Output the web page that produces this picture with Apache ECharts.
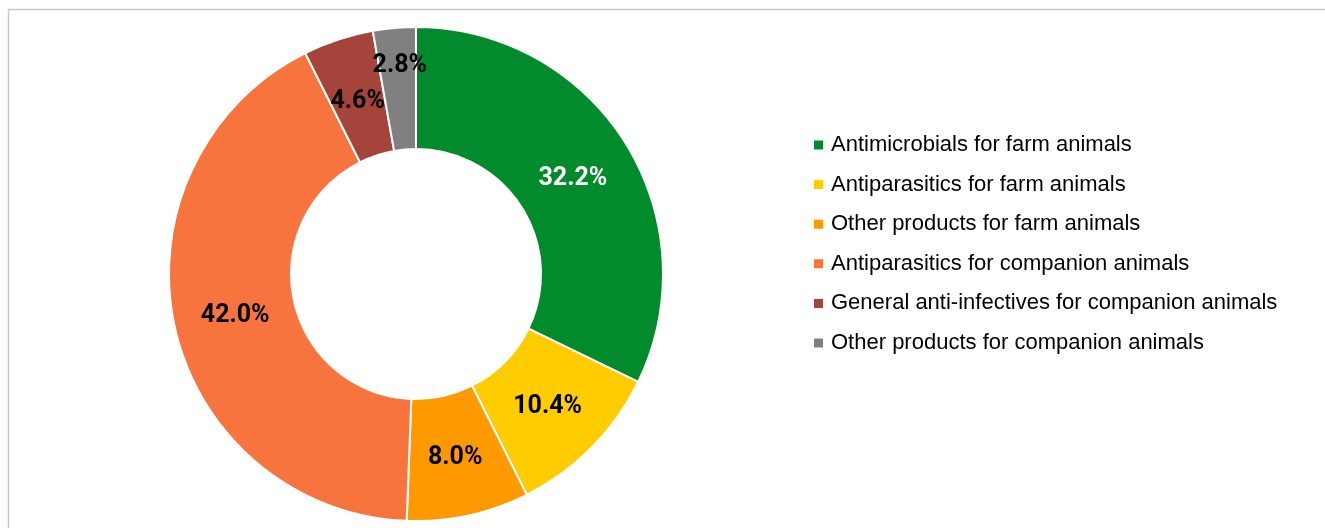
<!DOCTYPE html>
<html>
<head>
<meta charset="utf-8">
<script src="https://cdn.jsdelivr.net/npm/echarts@6/dist/echarts.min.js"></script>
<style>
  html, body { margin: 0; padding: 0; background: #fff; }
  #chart { width: 1325px; height: 528px; }
</style>
</head>
<body>
<div id="chart"></div>
<script>
// 分类与数值（%）
const categories = [
  'Antimicrobials for farm animals',
  'Antiparasitics for farm animals',
  'Other products for farm animals',
  'Antiparasitics for companion animals',
  'General anti-infectives for companion animals',
  'Other products for companion animals'
];
const shares = [32.2, 10.4, 8.0, 42.0, 4.6, 2.8];
const colors = ['#018B2D', '#FFCC00', '#FF9900', '#F7743F', '#A5443A', '#808080'];
const labelColors = ['#fff', '#000', '#000', '#000', '#000', '#000'];

const CX = 416, CY = 274;

const chart = echarts.init(document.getElementById('chart'));

// 标签微调：稍微往圆心收一点，整体下移一点；2.8% 往外挪
const tweakLabel = p => {
  const r = p.labelRect;
  const mx = r.x + r.width / 2 - CX;
  const my = r.y + r.height / 2 - CY;
  const len = Math.sqrt(mx * mx + my * my) || 1;
  let dx = -4 * mx / len;
  let dy = -4 * my / len + 3;
  if (p.dataIndex === 5) dy -= 27;
  return { dx, dy };
};

const option = {
  backgroundColor: '#fff',
  animation: false,
  // 外框（只露出左边和上边）
  graphic: [{
    type: 'rect',
    shape: { x: 8.5, y: 9.5, width: 1400, height: 700 },
    style: { fill: 'none', stroke: '#c8c8c8', lineWidth: 1.5 },
    silent: true
  }],
  legend: {
    orient: 'vertical',
    left: 812,
    top: 134,
    padding: 0,
    icon: 'rect',
    itemWidth: 11,
    itemHeight: 11,
    itemGap: 17.6,
    data: categories,
    textStyle: {
      fontFamily: '"Liberation Sans", Arial, sans-serif',
      fontSize: 22,
      lineHeight: 22,
      padding: [0, 0, 0, 2],
      color: '#000'
    }
  },
  series: [{
    type: 'pie',
    center: [CX, CY],
    radius: [125, 247],
    startAngle: 90,
    clockwise: true,
    avoidLabelOverlap: false,
    itemStyle: { borderColor: '#fff', borderWidth: 2 },
    label: {
      show: true,
      position: 'inside',
      fontFamily: 'Roboto, "Liberation Sans", sans-serif',
      fontWeight: 'bold',
      fontSize: 25,
      formatter: p => p.value.toFixed(1) + '%'
    },
    labelLayout: tweakLabel,
    labelLine: { show: false },
    data: categories.map((name, i) => ({
      name,
      value: shares[i],
      itemStyle: { color: colors[i] },
      label: { color: labelColors[i] }
    }))
  }]
};

chart.setOption(option);
</script>
</body>
</html>
